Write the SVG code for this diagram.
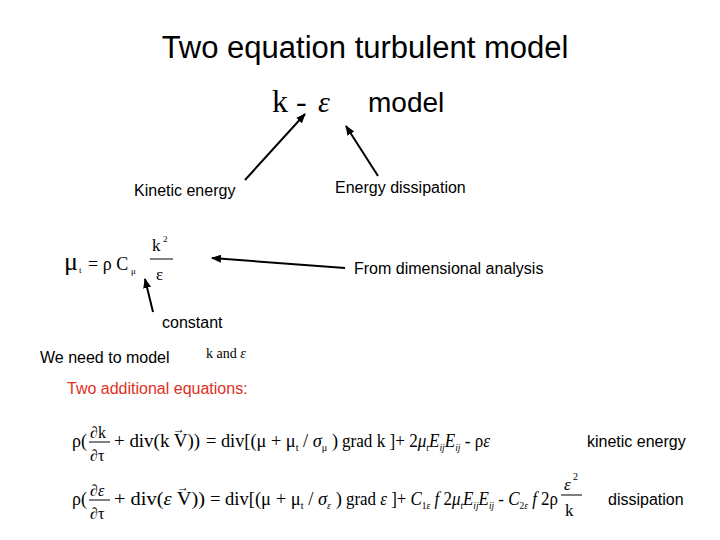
<svg xmlns="http://www.w3.org/2000/svg" width="720" height="540" viewBox="0 0 720 540">
<style>
.s{font-family:"Liberation Sans",Arial,sans-serif;fill:#000}
.m{font-family:"Liberation Serif","Times New Roman",serif;fill:#000}
.i{font-style:italic}
.a{stroke:#000;stroke-width:2;fill:none;marker-end:url(#ah)}
</style>
<defs><marker id="ah" markerWidth="10" markerHeight="8" refX="9" refY="4" orient="auto" markerUnits="userSpaceOnUse"><path d="M0,0 L10,4 L0,8 z" fill="#000"/></marker></defs>
<rect width="720" height="540" fill="#fff"/>
<g id="title"><text class="s" x="365" y="58" font-size="31" text-anchor="middle">Two equation turbulent model</text></g>
<g id="keps"><text class="m" x="272" y="112" font-size="32">k -</text><text class="m i" x="318" y="112" font-size="30">ε</text><text class="s" x="368" y="112" font-size="28">model</text></g>
<g id="connectors">
<line class="a" x1="245" y1="180" x2="305" y2="114"/>
<line class="a" x1="378" y1="176" x2="346" y2="126"/>
<line class="a" x1="345" y1="268" x2="212" y2="258"/>
<line class="a" x1="153" y1="312" x2="145" y2="279"/>
</g>
<g id="kinetic"><text class="s" x="134" y="196" font-size="16">Kinetic energy</text></g>
<g id="dissip"><text class="s" x="335" y="193" font-size="16">Energy dissipation</text></g>
<g id="mut"><text class="m" x="64" y="270" font-size="26">μ</text><text class="m" x="79" y="273" font-size="9">t</text><text class="m" x="88" y="270" font-size="18">= ρ C</text><text class="m" x="131" y="274" font-size="9">μ</text><text class="m" x="152" y="251" font-size="17">k</text><text class="m" x="163" y="242" font-size="9">2</text><line x1="150" y1="259" x2="173" y2="259" stroke="#000"/><text class="m" x="156" y="280" font-size="17">ε</text></g>
<g id="dim"><text class="s" x="354" y="274" font-size="16">From dimensional analysis</text></g>
<g id="const"><text class="s" x="162" y="328" font-size="16">constant</text></g>
<g id="need"><text class="s" x="40" y="363" font-size="16">We need to model</text><text class="m" x="206" y="358" font-size="14">k and <tspan class="i">ε</tspan></text></g>
<g id="two"><text class="s" x="67" y="394" font-size="16" style="fill:#e0301e">Two additional equations:</text></g>
<g id="eq1">
<text class="m" x="72" y="447" font-size="18">ρ(</text>
<text class="m" x="90" y="438" font-size="16">∂k</text><line x1="89" y1="442" x2="110" y2="442" stroke="#000"/><text class="m" x="90" y="461" font-size="16">∂τ</text>
<text class="m" x="114" y="447" font-size="18" textLength="86" lengthAdjust="spacingAndGlyphs">+ div(k V))</text>
<text class="m" x="173" y="433" font-size="12">→</text>
<text class="m" x="206" y="447" font-size="18" textLength="132" lengthAdjust="spacingAndGlyphs">= div[(μ + μ<tspan font-size="10" dy="4">t</tspan><tspan dy="-4"> / </tspan><tspan class="i">σ</tspan><tspan font-size="10" dy="4">μ</tspan><tspan dy="-4"> )</tspan></text>
<text class="m" x="342" y="447" font-size="18" textLength="148" lengthAdjust="spacingAndGlyphs">grad k ]+ 2<tspan class="i">μ</tspan><tspan font-size="10" class="i" dy="4">t</tspan><tspan class="i" dy="-4">E</tspan><tspan font-size="10" class="i" dy="4">ij</tspan><tspan class="i" dy="-4">E</tspan><tspan font-size="10" class="i" dy="4">ij</tspan><tspan dy="-4"> - ρ</tspan><tspan class="i">ε</tspan></text>
</g>
<g id="eq2">
<text class="m" x="72" y="505" font-size="18">ρ(</text>
<text class="m" x="90" y="496" font-size="16">∂<tspan class="i">ε</tspan></text><line x1="89" y1="500" x2="110" y2="500" stroke="#000"/><text class="m" x="90" y="519" font-size="16">∂τ</text>
<text class="m" x="114" y="505" font-size="18" textLength="91" lengthAdjust="spacingAndGlyphs">+ div(<tspan class="i">ε</tspan> V))</text>
<text class="m" x="177" y="491" font-size="12">→</text>
<text class="m" x="210" y="505" font-size="18" textLength="132" lengthAdjust="spacingAndGlyphs">= div[(μ + μ<tspan font-size="10" dy="4">t</tspan><tspan dy="-4"> / </tspan><tspan class="i">σ</tspan><tspan font-size="10" class="i" dy="4">ε</tspan><tspan dy="-4"> )</tspan></text>
<text class="m" x="346" y="505" font-size="18" textLength="212" lengthAdjust="spacingAndGlyphs">grad <tspan class="i">ε</tspan> ]+ <tspan class="i">C</tspan><tspan font-size="10" dy="4">1<tspan class="i">ε</tspan></tspan><tspan class="i" dy="-4"> f </tspan>2<tspan class="i">μ</tspan><tspan font-size="10" class="i" dy="4">t</tspan><tspan class="i" dy="-4">E</tspan><tspan font-size="10" class="i" dy="4">ij</tspan><tspan class="i" dy="-4">E</tspan><tspan font-size="10" class="i" dy="4">ij</tspan><tspan dy="-4"> - </tspan><tspan class="i">C</tspan><tspan font-size="10" dy="4">2<tspan class="i">ε</tspan></tspan><tspan class="i" dy="-4"> f </tspan>2ρ</text>
<text class="m i" x="564" y="490" font-size="17">ε</text><text class="m" x="573" y="480" font-size="10">2</text><line x1="561" y1="495" x2="582" y2="495" stroke="#000"/><text class="m" x="565" y="516" font-size="17">k</text>
</g>
<g id="lbl1"><text class="s" x="587" y="447" font-size="16">kinetic energy</text></g>
<g id="lbl2"><text class="s" x="608" y="505" font-size="16">dissipation</text></g>
</svg>
